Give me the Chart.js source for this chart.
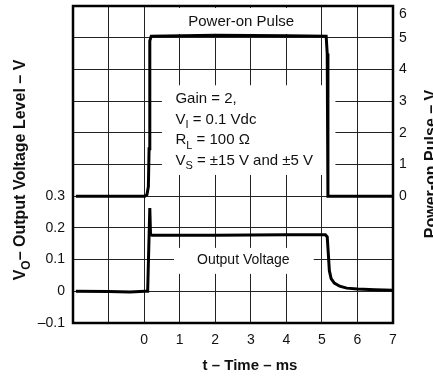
<!DOCTYPE html>
<html>
<head>
<meta charset="utf-8">
<script src="https://cdn.jsdelivr.net/npm/chart.js@4.4.0/dist/chart.umd.min.js"></script>
<style>
  html, body { margin: 0; padding: 0; background: #fff; }
  #wrap { width: 433px; height: 377px; position: relative; }
</style>
</head>
<body>
<div id="wrap"><canvas id="chart" width="433" height="377"></canvas></div>
<script>
// time axis, ms
const xTickLabels = ['', '', '0', '1', '2', '3', '4', '5', '6', '7'];
// left axis (output), V
const leftTickLabels = ['\u20130.1', '0', '0.1', '0.2', '0.3', '', '', '', '', '', ''];
// right axis (power-on pulse), V
const rightTickLabels = ['', '', '', '', '0', '1', '2', '3', '4', '5', ['', '6']];

// power-on pulse trace (right axis)
const pulseTime = [-1.92, 0.02, 0.08, 0.12, 0.14, 0.16, 0.2, 2.0, 4.0, 5.12, 5.15, 5.17, 7.0];
const pulseVolts = [0.0, 0.0, 0.05, 0.3, 1.5, 4.9, 5.05, 5.08, 5.06, 5.05, 4.5, 0.0, 0.0];

// output voltage trace (left axis)
const outTime = [-1.92, -1.0, -0.4, 0.02, 0.1, 0.16, 0.18, 0.22, 2.0, 4.0, 5.1, 5.15, 5.18, 5.21, 5.26, 5.35, 5.5, 5.7, 6.0, 6.5, 7.0];
const outVolts = [0.0, -0.001, -0.002, 0.0, 0.0, 0.263, 0.18, 0.177, 0.177, 0.178, 0.178, 0.172, 0.12, 0.065, 0.04, 0.026, 0.016, 0.01, 0.007, 0.005, 0.003];

const toPoints = (xs, ys) => xs.map((x, i) => ({ x: x, y: ys[i] }));

const FONT = '"Liberation Sans", Arial, Helvetica, sans-serif';

// white label backgrounds in data units [x0, x1, y0, y1, axis]
const boxes = [
  [0.45, 4.85, 5.94, 5.12, 'y2'],
  [0.5, 5.38, 3.5, 0.67, 'y2'],
  [0.84, 4.77, 0.137, 0.055, 'y']
];

const noteLines = [
  [['Gain = 2,']],
  [['V'], ['I', 1], [' = 0.1 Vdc']],
  [['R'], ['L', 1], [' = 100 \u03A9']],
  [['V'], ['S', 1], [' = \u00B115 V and \u00B15 V']]
];

function runsWidth(ctx, runs, size, weight) {
  let w = 0;
  runs.forEach(r => {
    ctx.font = weight + ' ' + (r[1] ? Math.round(size * 0.75) : size) + 'px ' + FONT;
    w += ctx.measureText(r[0]).width;
  });
  return w;
}

function drawRuns(ctx, runs, x, y, size, weight) {
  runs.forEach(r => {
    const s = r[1] ? Math.round(size * 0.75) : size;
    ctx.font = weight + ' ' + s + 'px ' + FONT;
    ctx.fillText(r[0], x, y + (r[1] ? size * 0.3 : 0));
    x += ctx.measureText(r[0]).width;
  });
}

const decor = {
  id: 'decor',
  beforeDatasetsDraw(chart) {
    const ctx = chart.ctx;
    const xs = chart.scales.x;
    ctx.save();
    ctx.fillStyle = '#fff';
    boxes.forEach(b => {
      const ys = chart.scales[b[4]];
      const x0 = xs.getPixelForValue(b[0]), x1 = xs.getPixelForValue(b[1]);
      const y0 = ys.getPixelForValue(b[2]), y1 = ys.getPixelForValue(b[3]);
      ctx.fillRect(x0, y0, x1 - x0, y1 - y0);
    });
    ctx.restore();
  },
  afterDraw(chart) {
    const ctx = chart.ctx;
    const a = chart.chartArea;
    const xs = chart.scales.x, yl = chart.scales.y, yr = chart.scales.y2;
    ctx.save();
    // frame
    ctx.strokeStyle = '#000';
    ctx.lineWidth = 2.5;
    ctx.strokeRect(a.left, a.top, a.right - a.left, a.bottom - a.top);

    ctx.fillStyle = '#111';
    ctx.textBaseline = 'middle';
    ctx.textAlign = 'center';
    ctx.font = '15px ' + FONT;
    ctx.fillText('Power-on Pulse', xs.getPixelForValue(2.73), yr.getPixelForValue(5.5));
    ctx.font = '14px ' + FONT;
    ctx.fillText('Output Voltage', xs.getPixelForValue(2.79), yl.getPixelForValue(0.099));

    ctx.textAlign = 'left';
    ctx.textBaseline = 'alphabetic';
    const nx = xs.getPixelForValue(0.88);
    let ny = yr.getPixelForValue(3.1) + 5.5;
    noteLines.forEach(line => {
      drawRuns(ctx, line, nx, ny, 15, '');
      ny += 20.4;
    });

    // axis titles
    ctx.textAlign = 'center';
    ctx.textBaseline = 'middle';
    ctx.font = 'bold 15px ' + FONT;
    ctx.fillText('t \u2013 Time \u2013 ms', 250, 366);

    ctx.textAlign = 'left';
    ctx.textBaseline = 'alphabetic';
    const leftTitle = [['V'], ['O', 1], ['\u2013 Output Voltage Level \u2013 V']];
    ctx.save();
    ctx.translate(25, 170);
    ctx.rotate(-Math.PI / 2);
    drawRuns(ctx, leftTitle, -runsWidth(ctx, leftTitle, 16, 'bold') / 2, 0, 16, 'bold');
    ctx.restore();

    const rightTitle = [['Power-on Pulse \u2013 V']];
    ctx.save();
    ctx.translate(436, 164);
    ctx.rotate(-Math.PI / 2);
    drawRuns(ctx, rightTitle, -runsWidth(ctx, rightTitle, 16, 'bold') / 2, 0, 16, 'bold');
    ctx.restore();
    ctx.restore();
  }
};

new Chart(document.getElementById('chart'), {
  type: 'line',
  data: {
    datasets: [
      {
        label: 'Output Voltage',
        data: toPoints(outTime, outVolts),
        yAxisID: 'y',
        borderColor: '#000',
        borderWidth: 3,
        pointRadius: 0,
        tension: 0,
        fill: false
      },
      {
        label: 'Power-on Pulse',
        data: toPoints(pulseTime, pulseVolts),
        yAxisID: 'y2',
        borderColor: '#000',
        borderWidth: 3,
        pointRadius: 0,
        tension: 0,
        fill: false
      }
    ]
  },
  options: {
    responsive: false,
    animation: false,
    devicePixelRatio: 1,
    layout: { padding: { top: 6, left: 0, right: 0, bottom: 0 } },
    plugins: { legend: { display: false }, tooltip: { enabled: false } },
    scales: {
      x: {
        type: 'linear',
        min: -2,
        max: 7,
        border: { display: false },
        grid: { color: '#222', lineWidth: 1, drawTicks: false },
        ticks: {
          stepSize: 1,
          padding: 9,
          color: '#111',
          font: { family: FONT, size: 14 },
          maxRotation: 0,
          autoSkip: false,
          callback: (v, i) => xTickLabels[i]
        },
        afterFit: s => { s.height = 54; s.paddingLeft = 0; s.paddingRight = 0; }
      },
      y: {
        position: 'left',
        min: -0.1,
        max: 0.9,
        border: { display: false },
        grid: { color: '#222', lineWidth: 1, drawTicks: false },
        ticks: {
          stepSize: 0.1,
          padding: 8,
          color: '#111',
          font: { family: FONT, size: 14 },
          autoSkip: false,
          callback: (v, i) => leftTickLabels[i]
        },
        afterFit: s => { s.width = 73; s.paddingTop = 0; s.paddingBottom = 0; }
      },
      y2: {
        position: 'right',
        min: -4,
        max: 6,
        border: { display: false },
        grid: { display: false, drawTicks: false },
        ticks: {
          stepSize: 1,
          padding: 6,
          color: '#111',
          font: { family: FONT, size: 14 },
          autoSkip: false,
          callback: (v, i) => rightTickLabels[i]
        },
        afterFit: s => { s.width = 40; s.paddingTop = 0; s.paddingBottom = 0; }
      }
    }
  },
  plugins: [decor]
});
</script>
</body>
</html>
